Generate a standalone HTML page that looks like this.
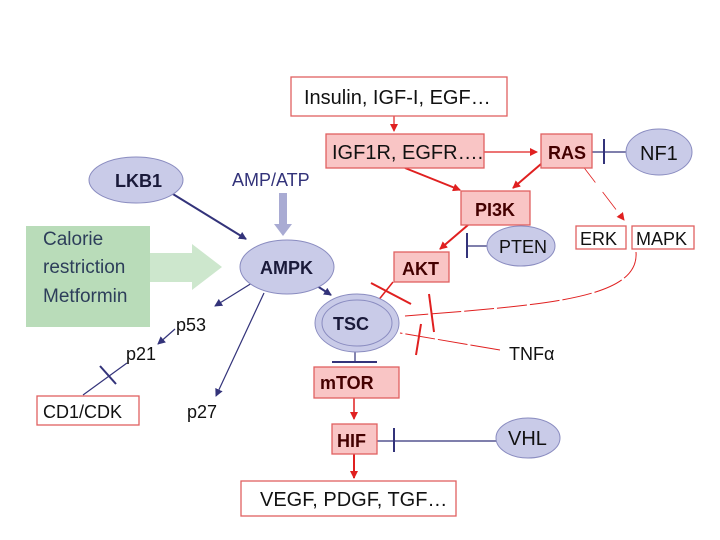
<!DOCTYPE html>
<html><head><style>body{margin:0;background:#fff}svg{display:block}text{font-family:"Liberation Sans",sans-serif}</style></head>
<body>
<svg width="720" height="540" viewBox="0 0 720 540" xmlns="http://www.w3.org/2000/svg">
<defs>
<marker id="ar" markerWidth="8" markerHeight="8" refX="7" refY="4" orient="auto" markerUnits="userSpaceOnUse"><path d="M0,0 L8,4 L0,8 z" fill="#e02020"/></marker>
<marker id="ab" markerWidth="8" markerHeight="8" refX="7" refY="4" orient="auto" markerUnits="userSpaceOnUse"><path d="M0,0 L8,4 L0,8 z" fill="#33337a"/></marker>
</defs>
<rect x="26" y="226" width="124" height="101" fill="#b9dcb9"/>
<path d="M150,253 L192,253 L192,244 L222,267 L192,290 L192,282 L150,282 z" fill="#cde7cd"/>
<text x="43" y="245" font-size="19" fill="#2d3e5a">Calorie</text>
<text x="43" y="273" font-size="19" fill="#2d3e5a">restriction</text>
<text x="43" y="302" font-size="19" fill="#2d3e5a">Metformin</text>
<text x="232" y="186" font-size="18" fill="#33337a">AMP/ATP</text>
<path d="M279,193 L287,193 L287,224 L292,224 L283,236 L274,224 L279,224 z" fill="#a9abd3"/>
<g stroke="#33337a" stroke-width="1.2" fill="none">
<line x1="168" y1="191" x2="246" y2="239" stroke-width="2" marker-end="url(#ab)"/>
<line x1="252" y1="283" x2="215" y2="306" marker-end="url(#ab)"/>
<line x1="264" y1="293" x2="216" y2="396" marker-end="url(#ab)"/>
<line x1="175" y1="329" x2="158" y2="344" marker-end="url(#ab)"/>
<line x1="127" y1="363" x2="83" y2="395"/>
<line x1="100" y1="366" x2="116" y2="384" stroke-width="2"/>
<line x1="314" y1="284" x2="331" y2="295" stroke-width="2" marker-end="url(#ab)"/>
<line x1="355" y1="352" x2="355" y2="362"/>
<line x1="332" y1="362" x2="377" y2="362" stroke-width="2"/>
<line x1="377" y1="441" x2="497" y2="441"/>
<line x1="394" y1="428" x2="394" y2="452" stroke-width="2"/>
<line x1="592" y1="152" x2="627" y2="152"/>
<line x1="604" y1="139" x2="604" y2="164" stroke-width="2"/>
<line x1="467" y1="246" x2="488" y2="246"/>
<line x1="467" y1="233" x2="467" y2="258" stroke-width="2"/>
</g>
<g stroke="#e02020" fill="none">
<line x1="394" y1="116" x2="394" y2="131" stroke-width="1.2" marker-end="url(#ar)"/>
<line x1="484" y1="152" x2="537" y2="152" stroke-width="1.2" marker-end="url(#ar)"/>
<line x1="405" y1="168" x2="460" y2="190" stroke-width="2" marker-end="url(#ar)"/>
<line x1="541" y1="164" x2="513" y2="188" stroke-width="2" marker-end="url(#ar)"/>
<line x1="582" y1="165" x2="624" y2="220" stroke-width="0.8" stroke-dasharray="22,12" marker-end="url(#ar)"/>
<line x1="468" y1="225" x2="440" y2="249" stroke-width="2" marker-end="url(#ar)"/>
<line x1="393" y1="282" x2="377" y2="302" stroke-width="1.5"/>
<line x1="371" y1="283" x2="411" y2="304" stroke-width="2"/>
<path d="M636,252 C640,300 540,305 405,316" stroke-width="1" stroke-dasharray="30,3"/>
<line x1="429" y1="294" x2="434" y2="332" stroke-width="2"/>
<line x1="500" y1="350" x2="400" y2="333" stroke-width="1" stroke-dasharray="30,3"/>
<line x1="421" y1="324" x2="416" y2="355" stroke-width="2"/>
<line x1="354" y1="398" x2="354" y2="419" stroke-width="1.5" marker-end="url(#ar)"/>
<line x1="354" y1="454" x2="354" y2="478" stroke-width="2" marker-end="url(#ar)"/>
</g>
<g stroke="#e06060" stroke-width="1.3">
<rect x="291" y="77" width="216" height="39" fill="#fff"/>
<rect x="326" y="134" width="158" height="34" fill="#f9c5c5"/>
<rect x="541" y="134" width="51" height="34" fill="#f9c5c5"/>
<rect x="461" y="191" width="69" height="34" fill="#f9c5c5"/>
<rect x="576" y="226" width="50" height="23" fill="#fff"/>
<rect x="632" y="226" width="62" height="23" fill="#fff"/>
<rect x="394" y="252" width="55" height="30" fill="#f9c5c5"/>
<rect x="314" y="367" width="85" height="31" fill="#f9c5c5"/>
<rect x="332" y="424" width="45" height="30" fill="#f9c5c5"/>
<rect x="241" y="481" width="215" height="35" fill="#fff"/>
<rect x="37" y="396" width="102" height="29" fill="#fff"/>
</g>
<g fill="#c9cbe8" stroke="#8a8cc0" stroke-width="1">
<ellipse cx="659" cy="152" rx="33" ry="23"/>
<ellipse cx="521" cy="246" rx="34" ry="20"/>
<ellipse cx="136" cy="180" rx="47" ry="23"/>
<ellipse cx="287" cy="267" rx="47" ry="27"/>
<ellipse cx="357" cy="323" rx="42" ry="29"/>
<ellipse cx="357" cy="323" rx="35" ry="23"/>
<ellipse cx="528" cy="438" rx="32" ry="20"/>
</g>
<g font-size="20" fill="#111">
<text x="304" y="104">Insulin, IGF-I, EGF…</text>
<text x="332" y="159">IGF1R, EGFR….</text>
<text x="640" y="160">NF1</text>
<text x="580" y="245" font-size="18">ERK</text>
<text x="636" y="245" font-size="18">MAPK</text>
<text x="499" y="253" font-size="18">PTEN</text>
<text x="508" y="445">VHL</text>
<text x="260" y="506">VEGF, PDGF, TGF…</text>
<text x="43" y="418" font-size="18">CD1/CDK</text>
<text x="176" y="331" font-size="18">p53</text>
<text x="126" y="360" font-size="18">p21</text>
<text x="187" y="418" font-size="18">p27</text>
<text x="509" y="360" font-size="18">TNFα</text>
</g>
<g font-size="18" font-weight="bold" fill="#1a1a3a">
<text x="115" y="187">LKB1</text>
<text x="260" y="274">AMPK</text>
<text x="333" y="330">TSC</text>
</g>
<g font-size="18" font-weight="bold" fill="#400">
<text x="548" y="159">RAS</text>
<text x="475" y="216">PI3K</text>
<text x="402" y="275">AKT</text>
<text x="320" y="389">mTOR</text>
<text x="337" y="447">HIF</text>
</g>
</svg>
</body></html>
